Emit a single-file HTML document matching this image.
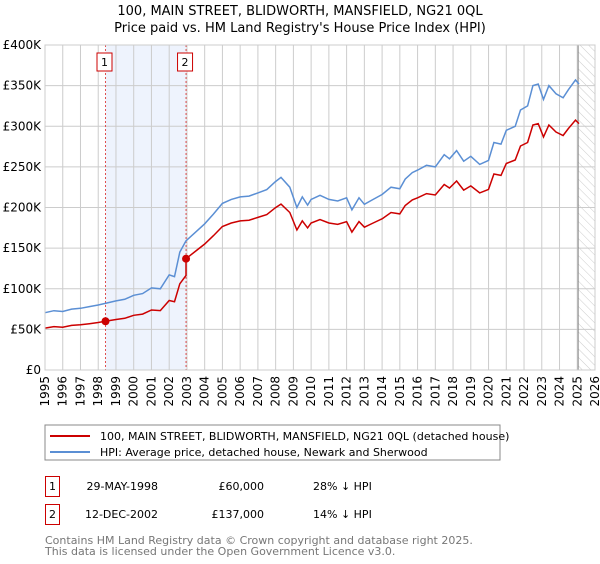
<!DOCTYPE html>
<html><head><meta charset="utf-8"><style>
body{margin:0;background:#fff;font-family:"DejaVu Sans","Liberation Sans",sans-serif;}
svg text{font-family:"DejaVu Sans","Liberation Sans",sans-serif;}
</style></head><body>
<svg id="c" width="600" height="560" xmlns="http://www.w3.org/2000/svg">
<defs><pattern id="hatch" width="6" height="6" patternUnits="userSpaceOnUse" patternTransform="rotate(-45)"><line x1="0" y1="0" x2="0" y2="6" stroke="#ccc" stroke-width="1"/></pattern></defs>
<text x="300" y="15" text-anchor="middle" font-size="13">100, MAIN STREET, BLIDWORTH, MANSFIELD, NG21 0QL</text>
<text x="300" y="32" text-anchor="middle" font-size="13">Price paid vs. HM Land Registry's House Price Index (HPI)</text>
<g id="plot"></g>
<rect x="45" y="425" width="455" height="35" fill="#fff" stroke="#888"/>
<line x1="50" y1="436" x2="90" y2="436" stroke="#cc0000" stroke-width="2"/>
<text x="100" y="440" font-size="11">100, MAIN STREET, BLIDWORTH, MANSFIELD, NG21 0QL (detached house)</text>
<line x1="50" y1="452" x2="90" y2="452" stroke="#5b8fd4" stroke-width="2"/>
<text x="100" y="456" font-size="11">HPI: Average price, detached house, Newark and Sherwood</text>
<g>
<rect x="45.5" y="476.5" width="14" height="20" fill="#fff" stroke="#cc0000"/><text x="52.5" y="490" text-anchor="middle" font-size="11">1</text>
<text x="158" y="490" text-anchor="end" font-size="11">29-MAY-1998</text>
<text x="264" y="490" text-anchor="end" font-size="11">£60,000</text>
<text x="313" y="490" font-size="11">28% ↓ HPI</text></g>
<g>
<rect x="45.5" y="504.5" width="14" height="20" fill="#fff" stroke="#cc0000"/><text x="52.5" y="518" text-anchor="middle" font-size="11">2</text>
<text x="158" y="518" text-anchor="end" font-size="11">12-DEC-2002</text>
<text x="264" y="518" text-anchor="end" font-size="11">£137,000</text>
<text x="313" y="518" font-size="11">14% ↓ HPI</text></g>
<text x="45" y="544" font-size="11" fill="#777">Contains HM Land Registry data © Crown copyright and database right 2025.</text>
<text x="45" y="555" font-size="11" fill="#777">This data is licensed under the Open Government Licence v3.0.</text>
</svg>
<script>
const hpiYears=[1995,1995.5,1996,1996.5,1997,1997.5,1998,1998.4,1999,1999.5,2000,2000.5,2001,2001.5,2002,2002.3,2002.6,2002.95,2003.5,2004,2004.5,2005,2005.5,2006,2006.5,2007,2007.5,2008,2008.3,2008.8,2009.2,2009.5,2009.8,2010,2010.5,2011,2011.5,2012,2012.3,2012.7,2013,2013.5,2014,2014.5,2015,2015.3,2015.7,2016,2016.5,2017,2017.5,2017.8,2018.2,2018.6,2019,2019.5,2020,2020.3,2020.7,2021,2021.5,2021.8,2022.2,2022.5,2022.8,2023.1,2023.4,2023.8,2024.2,2024.5,2024.9,2025.1];
const hpiValues=[70.5,73,72,75,76,78,80,82,85,87,92,94,101,100,117,115,145,159,170,180,192,205,210,213,214,218,222,232,237,225,200,213,203,210,215,210,208,212,197,212,204,210,216,225,223,235,243,246,252,250,265,260,270,257,263,253,258,280,278,295,300,320,325,350,352,333,350,340,335,345,357,352];
const saleYears=[1998.41,2002.95];
const salePrices=[60,137];
const yTicks=[0,50,100,150,200,250,300,350,400];
const xTicks=[];for(let y=1995;y<=2026;y++)xTicks.push(y);
const L=45,R=595,T=45,B=370;
const X=y=>L+(y-1995)/(2026-1995)*(R-L);
const Y=v=>B-v/400*(B-T);
const NS='http://www.w3.org/2000/svg';
const g=document.getElementById('plot');
function mk(t,a,p){const e=document.createElementNS(NS,t);for(const k in a)e.setAttribute(k,a[k]);(p||g).appendChild(e);return e;}
function hpiAt(t){for(let i=1;i<hpiYears.length;i++){if(t<=hpiYears[i]){const f=(t-hpiYears[i-1])/(hpiYears[i]-hpiYears[i-1]);return hpiValues[i-1]+f*(hpiValues[i]-hpiValues[i-1]);}}return hpiValues[hpiValues.length-1];}
let e=mk('rect',{x:X(saleYears[0]),y:T,width:X(saleYears[1])-X(saleYears[0]),height:B-T,fill:'#eef3fd'});

e=mk('rect',{x:X(2025.05),y:T,width:R-X(2025.05),height:B-T,fill:'url(#hatch)'});

xTicks.forEach(y=>{const l=mk('line',{x1:X(y),x2:X(y),y1:T,y2:B,stroke:'#ccc','stroke-width':1});

const t=mk('text',{x:0,y:0,'font-size':12,'text-anchor':'end',transform:`translate(${X(y)+4},${B+6}) rotate(-90)`});t.textContent=y;
});
yTicks.forEach(v=>{const l=mk('line',{x1:L,x2:R,y1:Y(v),y2:Y(v),stroke:'#ccc','stroke-width':1});

const t=mk('text',{x:L-4,y:Y(v)+4,'font-size':12,'text-anchor':'end'});t.textContent=v===0?'£0':'£'+v+'K';
});
e=mk('line',{x1:X(2025.05),x2:X(2025.05),y1:T,y2:B,stroke:'#888','stroke-width':1});

saleYears.forEach((s,i)=>{const l=mk('line',{x1:X(s),x2:X(s),y1:T,y2:B,stroke:'#e05050','stroke-dasharray':'2,2','stroke-width':1});

const r=mk('rect',{x:X(s)-8.5,y:53,width:15,height:18,fill:'#fff',stroke:'#cc0000'});

const t=mk('text',{x:X(s)-1,y:66,'font-size':11,'text-anchor':'middle'});t.textContent=i+1;
});
let hp=hpiYears.map((y,i)=>X(y).toFixed(1)+','+Y(hpiValues[i]).toFixed(1)).join(' ');
e=mk('polyline',{points:hp,fill:'none',stroke:'#5b8fd4','stroke-width':1.5});

const r0=salePrices[0]/hpiAt(saleYears[0]),r1=salePrices[1]/hpiAt(saleYears[1]);
let pts=[];hpiYears.forEach((y,i)=>{if(y<saleYears[1])pts.push([y,hpiValues[i]*r0]);});
pts.push([saleYears[1],hpiAt(saleYears[1])*r0]);pts.push([saleYears[1],salePrices[1]]);
hpiYears.forEach((y,i)=>{if(y>saleYears[1])pts.push([y,hpiValues[i]*r1]);});
e=mk('polyline',{points:pts.map(p=>X(p[0]).toFixed(1)+','+Y(p[1]).toFixed(1)).join(' '),fill:'none',stroke:'#cc0000','stroke-width':1.5});

saleYears.forEach((s,i)=>{const c=mk('circle',{cx:X(s),cy:Y(salePrices[i]),r:4,fill:'#cc0000'});
});
e=mk('rect',{x:L,y:T,width:R-L,height:B-T,fill:'none',stroke:'#ccc'});

</script>
</body></html>
